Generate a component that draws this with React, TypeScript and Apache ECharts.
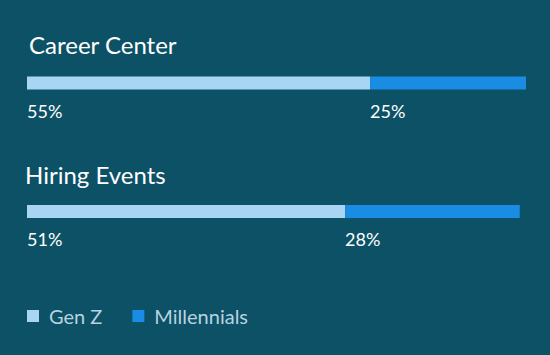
import React, { useEffect, useRef } from "react";
import * as echarts from "echarts";

const categories = ["Career Center", "Hiring Events"];
const genZ = [55, 51];
const millennials = [25, 28];
const seriesNames = ["Gen Z", "Millennials"];

const FONT = "Lato, 'Noto Sans', sans-serif";

export default function App() {
  const ref = useRef<HTMLDivElement>(null);
  useEffect(() => {
    document.body.style.margin = "0";
    const chart = echarts.init(ref.current!, null, { renderer: "svg" });
    const titleTops = [32, 162];
    const titleLefts = [29, 25];
    const label = {
      show: true,
      position: [0, 25] as [number, number],
      color: "#ffffff",
      fontSize: 18,
      fontFamily: FONT,
      formatter: "{c}%",
    };
    chart.setOption({
      animation: false,
      backgroundColor: "#0c5166",
      title: categories.map((c, i) => ({
        text: c,
        left: titleLefts[i],
        top: titleTops[i],
        padding: 0,
        textStyle: { color: "#ffffff", fontSize: 24, fontWeight: "normal", fontFamily: FONT },
      })),
      legend: {
        data: seriesNames,
        left: 27,
        top: 306,
        icon: "rect",
        itemWidth: 12,
        itemHeight: 12,
        itemGap: 30,
        padding: 0,
        textStyle: { color: "#b7d3e0", fontSize: 20, fontFamily: FONT, padding: [0, 0, 0, 5] },
      },
      grid: { left: 27, right: 24, top: 18.75, height: 257 },
      xAxis: { type: "value", min: 0, max: 80, show: false },
      yAxis: {
        type: "category",
        data: categories,
        inverse: true,
        show: false,
      },
      series: [
        {
          name: seriesNames[0],
          type: "bar",
          stack: "total",
          data: genZ,
          barWidth: 13,
          itemStyle: { color: "#a7d5f3" },
          label,
        },
        {
          name: seriesNames[1],
          type: "bar",
          stack: "total",
          data: millennials,
          barWidth: 13,
          itemStyle: { color: "#1a8ce3" },
          label,
        },
      ],
    });
    return () => chart.dispose();
  }, []);
  return <div ref={ref} style={{ width: 550, height: 355, position: "absolute", left: 0, top: 0 }} />;
}
